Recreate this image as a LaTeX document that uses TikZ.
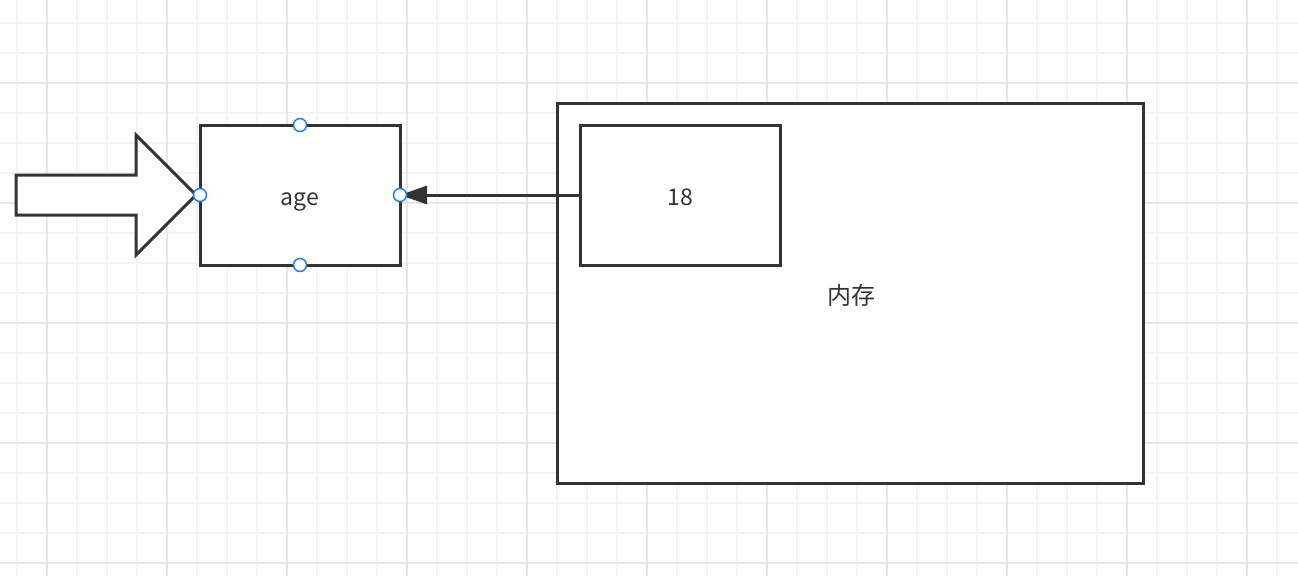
\documentclass[tikz,border=0pt]{standalone}
\usepackage{fontspec}
\setmainfont{Noto Sans CJK SC}
\usetikzlibrary{arrows.meta}
\definecolor{ink}{HTML}{333333}
\definecolor{gridminor}{HTML}{F3F3F3}
\definecolor{gridmajor}{HTML}{E6E6E6}
\definecolor{handleblue}{HTML}{1A7FF2}
\tikzset{
  box/.style={draw=ink, line width=3pt, fill=white, outer sep=0pt, inner sep=0pt},
  conn/.style={draw=ink, line width=3pt, -{Triangle[length=27pt,width=18pt]}},
  bigarrow/.style={draw=ink, line width=3pt, fill=white, line join=miter},
  handle/.style={circle, draw=handleblue, line width=1.5pt, fill=white, minimum size=13pt, inner sep=0pt},
  minorline/.style={draw=gridminor, line width=2pt},
  majorline/.style={draw=gridmajor, line width=2pt},
  label/.style={font=\fontsize{23}{27}\selectfont, text=ink, inner sep=0pt}
}
\begin{document}
\begin{tikzpicture}[x=1pt,y=-1pt]
\useasboundingbox (0,0) rectangle (1298,576);
\fill[white] (0,0) rectangle (1298,576);
% grid
\foreach \k in {0,...,42} { \draw[minorline] ({16.7+30*\k},0) -- ({16.7+30*\k},576); }
\foreach \k in {0,...,18} { \draw[minorline] (0,{22.7+30*\k}) -- (1298,{22.7+30*\k}); }
\foreach \k in {0,...,10} { \draw[majorline] ({46.7+120*\k},0) -- ({46.7+120*\k},576); }
\foreach \k in {0,...,4} { \draw[majorline] (0,{82.7+120*\k}) -- (1298,{82.7+120*\k}); }
% boxes
\node[box, minimum width=200pt, minimum height=140pt] (age) at (300,195) {};
\node[box, minimum width=586pt, minimum height=380pt] (mem) at (850,293.5) {};
\node[box, minimum width=200pt, minimum height=140pt] (val) at (680,195) {};
% labels
\node[label, anchor=base] (agelabel) at (300,205) {age};
\node[label, anchor=base] (vallabel) at (680,205) {18};
\node[label, font=\fontsize{24}{28}\selectfont] (memlabel) at (851,295) {内存};
% big arrow shape
\coordinate (tip) at (196,195);
\draw[bigarrow] (16,175) -- (136,175) -- (136,135) -- (tip) -- (136,255) -- (136,215) -- (16,215) -- cycle;
% connector
\draw[conn] (val.west) -- (age.east);
% handles
\node[handle] (hn) at (age.north) {};
\node[handle] (hs) at (age.south) {};
\node[handle] (hw) at (age.west) {};
\node[handle] (he) at (age.east) {};
\end{tikzpicture}
\end{document}
